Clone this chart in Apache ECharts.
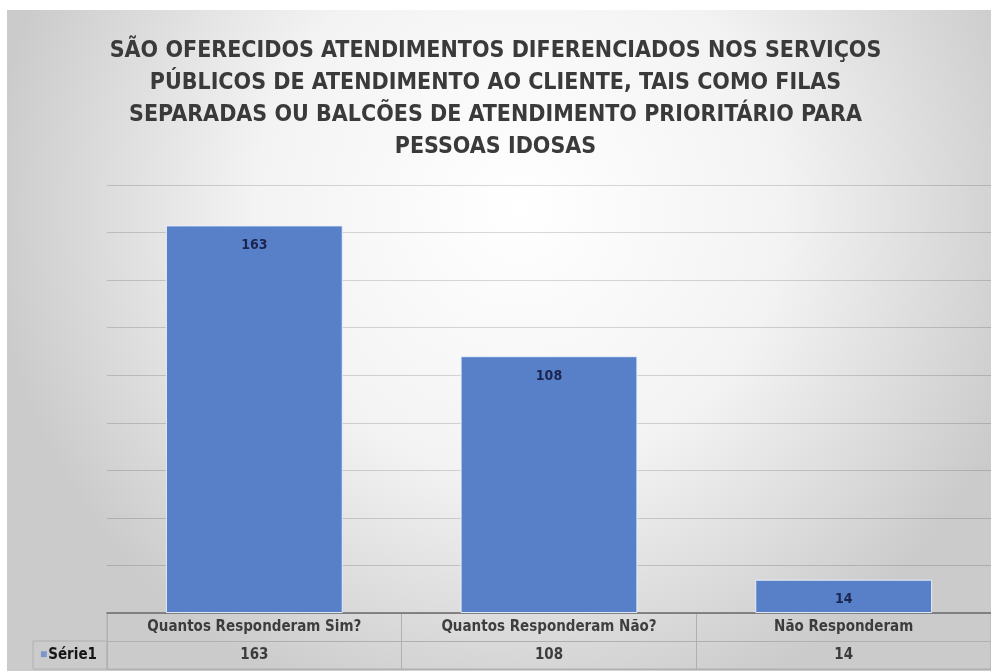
<!DOCTYPE html>
<html><head><meta charset="utf-8">
<script src="https://cdn.jsdelivr.net/npm/echarts@6/dist/echarts.min.js"></script>
<style>html,body{margin:0;padding:0;background:#fff}#c{width:991px;height:671px}</style>
</head><body><div id="c"></div>
<script>
const titleLines = [
  'SÃO OFERECIDOS ATENDIMENTOS DIFERENCIADOS NOS SERVIÇOS',
  'PÚBLICOS DE ATENDIMENTO AO CLIENTE, TAIS COMO FILAS',
  'SEPARADAS OU BALCÕES DE ATENDIMENTO PRIORITÁRIO PARA',
  'PESSOAS IDOSAS'
];
const categories = ['Quantos Responderam Sim?', 'Quantos Responderam Não?', 'Não Responderam'];
const seriesName = 'Série1';
const values = [163, 108, 14];
const yMax = 180;
const yInterval = 20;

const FONT = '"Liberation Sans Narrow", "DejaVu Sans Condensed", "Open Sans", sans-serif';
const chart = echarts.init(document.getElementById('c'), null, {renderer: 'canvas'});

const tableRows = ['serie', 'header'];
const cellLabel = {show: true, position: 'inside', fontFamily: FONT, fontWeight: 'bold', fontSize: 15, color: '#161616'};
const tableData = [];
categories.forEach((c, i) => {
  tableData.push({value: [c, 'header'], label: Object.assign({}, cellLabel, {formatter: c})});
  tableData.push({value: [c, 'serie'], label: Object.assign({}, cellLabel, {formatter: String(values[i])})});
});

chart.setOption({
  backgroundColor: '#ffffff',
  graphic: [{
    type: 'rect', left: 7, top: 10, z: -10, silent: true,
    shape: {width: 984, height: 661},
    style: {
      fill: new echarts.graphic.RadialGradient(0.52, 0.3, 0.8, [
        {offset: 0, color: '#ffffff'},
        {offset: 0.5, color: '#f3f3f3'},
        {offset: 1, color: '#cbcbcb'}
      ])
    }
  }],
  title: {
    text: titleLines.join('\n'),
    left: 'center', top: 30,
    textStyle: {fontFamily: FONT, fontWeight: 'bold', fontSize: 23, lineHeight: 32, color: '#3a3a3a'}
  },
  grid: [
    {left: 107, right: 0, top: 185, bottom: 58, containLabel: false},
    {left: 107, right: 0, top: 613, bottom: 2, show: true, borderColor: '#b0b0b0', borderWidth: 1, backgroundColor: 'transparent'},
    {left: 33, width: 74, top: 641, bottom: 2, show: true, borderColor: '#b0b0b0', borderWidth: 1, backgroundColor: 'transparent'}
  ],
  xAxis: [
    {type: 'category', gridIndex: 0, data: categories,
      axisLine: {show: true, lineStyle: {color: '#6f6f6f', width: 1.5}},
      axisTick: {show: false}, axisLabel: {show: false}, splitLine: {show: false}},
    {type: 'category', gridIndex: 1, data: categories,
      axisLine: {show: false}, axisTick: {show: false}, axisLabel: {show: false},
      splitLine: {show: true, lineStyle: {color: '#b0b0b0', width: 1}}},
    {type: 'category', gridIndex: 2, data: [''], show: false}
  ],
  yAxis: [
    {type: 'value', gridIndex: 0, min: 0, max: yMax, interval: yInterval,
      axisLine: {show: false}, axisTick: {show: false}, axisLabel: {show: false},
      splitLine: {show: true, lineStyle: {color: 'rgba(0,0,0,0.15)', width: 1}}},
    {type: 'category', gridIndex: 1, data: tableRows,
      axisLine: {show: false}, axisTick: {show: false},
      axisLabel: {show: true, align: 'left', margin: 67,
        formatter: v => v === 'serie' ? '{sq|■}{t|' + seriesName + '}' : '',
        rich: {
          sq: {color: '#7b95cc', fontSize: 12, padding: [0, 1, 0, 0]},
          t: {fontFamily: FONT, fontWeight: 'bold', fontSize: 15, color: '#161616'}
        }},
      splitLine: {show: true, lineStyle: {color: '#b0b0b0', width: 1}}},
    {type: 'category', gridIndex: 2, data: [''], show: false}
  ],
  series: [
    {type: 'bar', name: seriesName, xAxisIndex: 0, yAxisIndex: 0, data: values,
      barCategoryGap: '40%',
      itemStyle: {color: '#5880c9', borderColor: 'rgba(235,242,255,0.9)', borderWidth: 1},
      label: {show: true, position: 'insideTop', distance: 13,
        fontFamily: FONT, fontWeight: 'bold', fontSize: 14, color: '#1b2550'}},
    {type: 'scatter', xAxisIndex: 1, yAxisIndex: 1, data: tableData, symbolSize: 0,
      silent: true, label: cellLabel}
  ]
});
</script></body></html>
